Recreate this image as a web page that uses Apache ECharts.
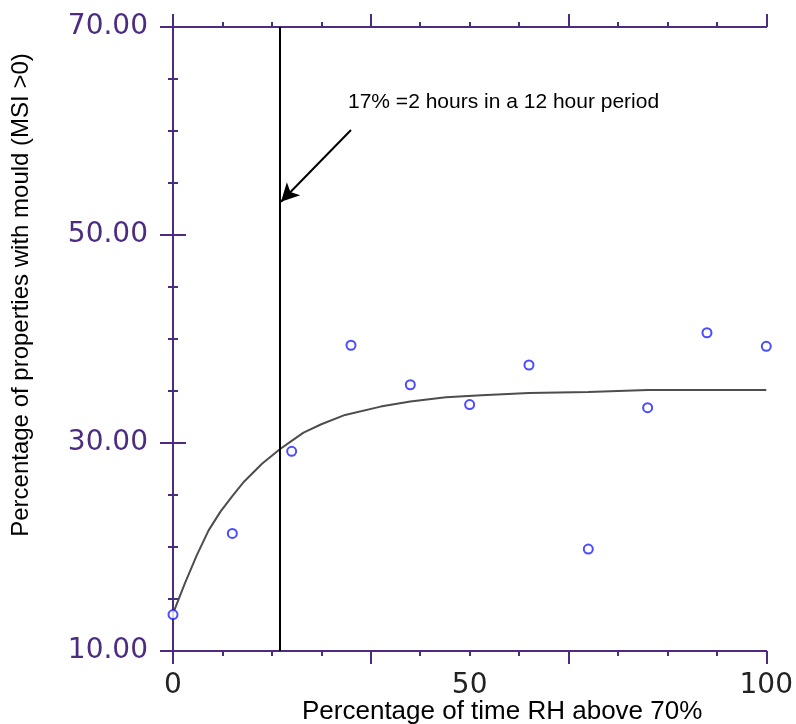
<!DOCTYPE html>
<html>
<head>
<meta charset="utf-8">
<script src="https://cdn.jsdelivr.net/npm/echarts@6/dist/echarts.min.js"></script>
<style>
  html, body { margin: 0; padding: 0; background: #fff; }
  #chart { width: 796px; height: 724px; }
</style>
</head>
<body>
<div id="chart"></div>
<script>
// 观测点 (percentage of time RH above 70% -> percentage with mould)
const pointX = [0, 10, 20, 30, 40, 50, 60, 70, 80, 90, 100]
const pointY = [13.5, 21.3, 29.2, 39.4, 35.6, 33.7, 37.5, 19.8, 33.4, 40.6, 39.3]

// 拟合曲线
const curveX = [0, 2, 4, 6, 8, 10, 12, 15, 18, 20, 22, 25, 29, 35, 40, 46, 52, 60, 70, 80, 90, 100]
const curveY = [13.6, 16.5, 19.2, 21.6, 23.4, 24.9, 26.3, 28.0, 29.4, 30.2, 31.0, 31.8, 32.7, 33.5, 34.0, 34.4, 34.6, 34.8, 34.9, 35.1, 35.1, 35.1]

const xTicks = [0, 50, 100]
const yTicks = [10, 30, 50, 70]

// 17% marker line and the arrow pointing at it
const markerX = 18
const arrowFrom = [30.0, 60.1]
const arrowTo = [18.2, 53.2]
const noteText = '17% =2 hours in a 12 hour period'

const PURPLE = '#4b2c80'
const chartDom = document.getElementById('chart')
const myChart = echarts.init(chartDom)

/**
 * @description 坐标轴刻度样式 (ticks only, no labels)
 */
const tickAxis = (position, extra = {}) => {
    return Object.assign({
        position,
        axisLine: { show: true, lineStyle: { color: PURPLE, width: 2 } },
        axisTick: { show: true, length: 13, lineStyle: { color: PURPLE, width: 2 } },
        minorTick: { show: true, splitNumber: 4, length: 5, lineStyle: { color: PURPLE, width: 2 } },
        axisLabel: { show: false },
        splitLine: { show: false },
        minorSplitLine: { show: false },
    }, extra)
}

const option = {
    animation: false,
    backgroundColor: '#fff',
    grid: { left: 173, right: 22, top: 27, bottom: 73 },
    xAxis: [
        // data axis with the labels 0 / 50 / 100
        {
            type: 'value', position: 'bottom', min: 0, max: 100, interval: 50,
            axisLine: { show: false }, axisTick: { show: false }, splitLine: { show: false },
            axisLabel: {
                margin: 21, color: '#222', fontSize: 28, fontFamily: 'DejaVu Sans',
                formatter: (v) => xTicks.includes(v) ? String(v) : '',
            },
        },
        // tick axes: long tick every third of the range, short every twelfth
        tickAxis('bottom', { type: 'value', min: 0, max: 12, interval: 4 }),
        tickAxis('top', { type: 'value', min: 0, max: 12, interval: 4 }),
    ],
    yAxis: [
        tickAxis('left', {
            type: 'value', min: 10, max: 70, interval: 20,
            axisLabel: {
                show: true, margin: 25, color: PURPLE, fontSize: 28, fontFamily: 'DejaVu Sans',
                formatter: (v) => yTicks.includes(v) ? v.toFixed(2) : '',
            },
        }),
        tickAxis('right', { type: 'value', min: 10, max: 70, interval: 20 }),
    ],
    graphic: [
        {
            type: 'text', left: 302, top: 699,
            style: { text: 'Percentage of time RH above 70%', font: '26px "Liberation Sans", Arial', fill: '#000' },
        },
        {
            type: 'text', x: 21, y: 295, rotation: Math.PI / 2,
            style: {
                text: 'Percentage of properties with mould (MSI >0)', font: '24px "Liberation Sans", Arial',
                fill: '#000', align: 'center', verticalAlign: 'middle',
            },
        },
        {
            type: 'text', x: 348, y: 102,
            style: { text: noteText, font: '21px "Liberation Sans", Arial', fill: '#000', verticalAlign: 'middle' },
        },
    ],
    series: [
        {
            type: 'line',
            data: curveX.map((x, i) => [x, curveY[i]]),
            showSymbol: false,
            lineStyle: { color: '#4d4d4d', width: 2 },
            z: 2,
            markLine: {
                silent: true,
                animation: false,
                label: { show: false },
                data: [
                    [
                        { coord: [markerX, 10], symbol: 'none' },
                        { coord: [markerX, 70], symbol: 'none' },
                    ],
                    [
                        { coord: arrowFrom, symbol: 'none' },
                        { coord: arrowTo, symbol: 'arrow', symbolSize: [14, 18] },
                    ],
                ],
                lineStyle: { color: '#000', width: 2, type: 'solid' },
            },
        },
        {
            type: 'scatter',
            data: pointX.map((x, i) => [x, pointY[i]]),
            symbol: 'circle',
            symbolSize: 9,
            itemStyle: { color: '#fff', borderColor: '#1f1fff', borderWidth: 2 },
            z: 3,
        },
    ],
}

myChart.setOption(option)
</script>
</body>
</html>
